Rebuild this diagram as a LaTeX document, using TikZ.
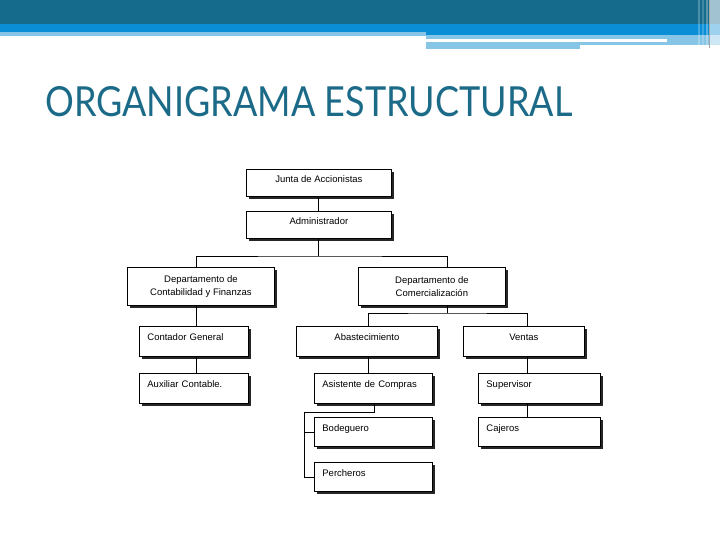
\documentclass[tikz,border=0pt]{standalone}
\usepackage{fontspec}
\setmainfont{Liberation Sans}
\newfontfamily\titlefont{Lato}
\usetikzlibrary{shadows}
\definecolor{hdark}{HTML}{146B8C}
\definecolor{hblue}{HTML}{0A8ED6}
\definecolor{hlight}{HTML}{86C5E6}
\definecolor{titlecol}{HTML}{1B6A88}
\begin{document}
\begin{tikzpicture}[x=1pt,y=-1pt,
  box/.style={draw=black, line width=0.8pt, fill=white,
    drop shadow={shadow xshift=2.2pt, shadow yshift=-2.2pt, fill=black!85, opacity=1},
    anchor=north west, font=\fontsize{9.5}{12.5}\selectfont, inner sep=0pt},
  cbox/.style={box, align=center, text height=7pt, text depth=8pt},
  dbox/.style={box, align=center},
  lbox/.style={box, align=left, inner xsep=8pt, text height=7pt, text depth=8pt},
  conn/.style={draw=black, line width=0.8pt}]
\useasboundingbox (0,0) rectangle (720,540);
\fill[white] (0,0) rectangle (720,540);
% header bands
\fill[hdark] (0,0) rectangle (720,24);
\fill[hblue] (0,24) rectangle (720,32);
\fill[hlight] (0,32) rectangle (426,36);
\fill[hblue] (426,32) rectangle (720,35);
\fill[hlight] (426,35) rectangle (720,45);
\fill[white] (426,39) rectangle (667,42);
\fill[hlight] (426,42) rectangle (580,49);
\fill[white,opacity=.25] (698,0) rectangle (700,45);
\fill[white,opacity=.2] (702,0) rectangle (704,45);
\fill[white,opacity=.3] (706,0) rectangle (708,45);
\draw[gray!70, line width=0.8pt] (709,0) -- (709,48);
\fill[white,opacity=.6] (710,0) rectangle (720,45);
% title
\node[anchor=base west, inner sep=0pt, text=titlecol] (title) at (45,117)
  {\resizebox{527pt}{30pt}{\titlefont ORGANIGRAMA ESTRUCTURAL}};
% boxes
\node[cbox, minimum width=145pt, minimum height=27pt] (junta) at (246,169) {Junta de Accionistas};
\node[cbox, minimum width=145pt, minimum height=27pt] (admin) at (246,211) {Administrador};
\node[dbox, minimum width=147pt, minimum height=38pt] (contab) at (127,267) {Departamento de\\Contabilidad y Finanzas};
\node[dbox, minimum width=147pt, minimum height=38pt] (comerc) at (358,267) {Departamento de\\Comercialización};
\node[lbox, text width=93pt, minimum height=30pt] (contador) at (139,326) {Contador General};
\node[lbox, text width=93pt, minimum height=30pt] (aux) at (139,373) {Auxiliar Contable.};
\node[cbox, minimum width=141pt, minimum height=30pt] (abast) at (296,326) {Abastecimiento};
\node[cbox, minimum width=121pt, minimum height=30pt] (ventas) at (463,326) {Ventas};
\node[lbox, text width=102pt, minimum height=30pt] (asist) at (314,373) {Asistente de Compras};
\node[lbox, text width=106pt, minimum height=30pt] (super) at (478,373) {Supervisor};
\node[lbox, text width=102pt, minimum height=29pt] (bod) at (314,417) {Bodeguero};
\node[lbox, text width=106pt, minimum height=29pt] (caj) at (478,417) {Cajeros};
\node[lbox, text width=102pt, minimum height=29pt] (perch) at (314,462) {Percheros};
% connector guide coordinates
\coordinate (xa) at (318,0);
\coordinate (xc) at (196,0);
\coordinate (xd) at (447,0);
\coordinate (xab) at (368,0);
\coordinate (xv) at (527,0);
\coordinate (xs) at (374,0);
\coordinate (xp) at (304,0);
\coordinate (bus1) at (318,256);
\coordinate (bus2) at (447,313);
\coordinate (bus3) at (374,412);
% connectors
\draw[conn] (junta.south -| xa) -- (admin.north -| xa);
\draw[conn] (admin.south -| xa) -- (bus1);
\draw[conn] (contab.north -| xc) |- (bus1) -| (comerc.north -| xd);
\draw[conn] (contab.south -| xc) -- (contador.north -| xc);
\draw[conn] (contador.south -| xc) -- (aux.north -| xc);
\draw[conn] (comerc.south -| xd) -- (bus2);
\draw[conn] (abast.north -| xab) |- (bus2) -| (ventas.north -| xv);
\draw[conn] (abast.south -| xab) -- (asist.north -| xab);
\draw[conn] (asist.south -| xs) -- (bus3) -| (perch.west -| xp) -- (perch.west);
\draw[conn] (bod.west -| xp) -- (bod.west);
\draw[conn] (ventas.south -| xv) -- (super.north -| xv);
\draw[conn] (super.south -| xv) -- (caj.north -| xv);
\end{tikzpicture}
\end{document}
